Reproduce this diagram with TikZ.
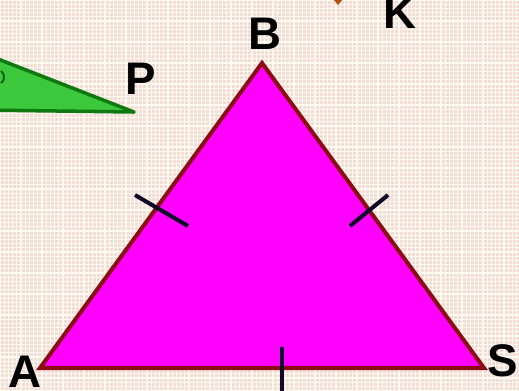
\documentclass[tikz,border=0pt]{standalone}
\usepackage{fontspec}
\setmainfont{Liberation Sans}
\definecolor{paper}{RGB}{243,220,213}
\definecolor{gridline}{RGB}{255,250,240}
\definecolor{rim}{RGB}{140,12,20}
\definecolor{pinkfill}{RGB}{255,0,255}
\definecolor{leaf}{RGB}{60,200,60}
\definecolor{leafrim}{RGB}{15,120,15}
\definecolor{rust}{RGB}{180,80,20}
\tikzset{
  vlabel/.style={font=\fontsize{26}{26}\selectfont\bfseries, inner sep=0pt},
  tick/.style={line width=2.3pt, draw={rgb,255:red,15;green,10;blue,40}}
}
\begin{document}
\begin{tikzpicture}[x=0.02cm,y=-0.02cm]
\useasboundingbox (0,0) rectangle (519,390);
\clip (0,0) rectangle (519,390);
% background grid
\fill[paper] (0,0) rectangle (519,390);
\foreach \k in {0,...,124} {
  \draw[gridline, line width=0.45pt] (\k*4.2,0) -- (\k*4.2,390);
  \draw[gridline, line width=0.45pt] (0,\k*4.2) -- (519,\k*4.2);
}
\foreach \k in {0,...,25} {
  \draw[gridline, line width=0.9pt] (\k*21,0) -- (\k*21,390);
  \draw[gridline, line width=0.9pt] (0,\k*21) -- (519,\k*21);
}
% green triangle
\coordinate (G1) at (-20,52);
\coordinate (G2) at (134,112);
\coordinate (G3) at (-20,110);
\filldraw[fill=leaf, draw=leafrim, line width=2pt, line join=round] (G1) -- (G2) -- (G3) -- cycle;
\draw[leafrim!70!black, line width=1pt] (-4,77) ++(-50:8) arc (-50:50:8);
% corner of a figure above
\fill[rust] (333,-1) -- (343,-1) -- (338,5) -- cycle;
% main triangle
\coordinate (A) at (40,368);
\coordinate (B) at (262,63);
\coordinate (S) at (484,368);
\filldraw[fill=pinkfill, draw=rim, line width=2.3pt, line join=miter] (A) -- (B) -- (S) -- cycle;
% equal side marks
\coordinate (t1) at (135,195);
\coordinate (t2) at (188,226);
\coordinate (t3) at (388,195);
\coordinate (t4) at (350,226);
\coordinate (t5) at (282,347);
\coordinate (t6) at (282,395);
\draw[tick] (t1) -- (t2);
\draw[tick] (t3) -- (t4);
\draw[tick] (t5) -- (t6);
% labels
\node[vlabel] (lA) at (25,372) {A};
\node[vlabel] (lB) at (265,34) {B};
\node[vlabel] (lS) at (503,361) {S};
\node[vlabel] (lP) at (141,79) {P};
\node[vlabel] (lK) at (400,13) {K};
\end{tikzpicture}
\end{document}
